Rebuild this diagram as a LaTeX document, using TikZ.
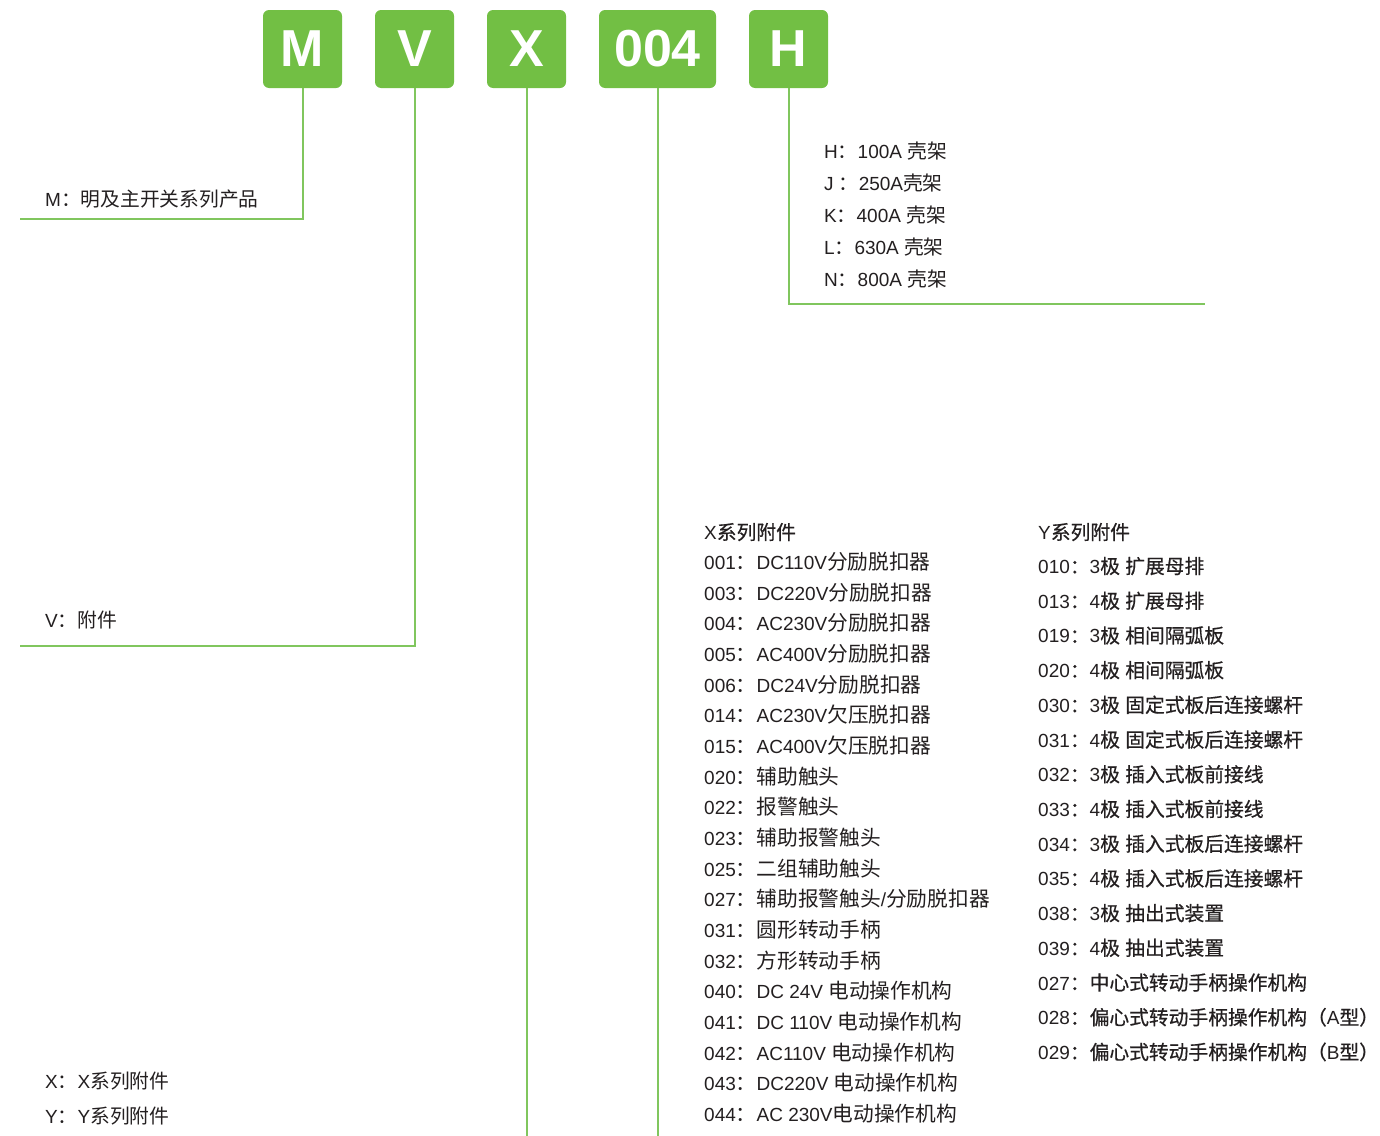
\documentclass[tikz,border=0pt]{standalone}
\usepackage{fontspec}
\setmainfont{Liberation Sans}
\newfontfamily\latfont{Liberation Sans}
\newfontfamily\cjkfont{Noto Sans CJK SC}[Scale=1.04]
\newfontfamily\cjkwidefont{Noto Sans CJK SC}[Scale=1.09]
\newfontfamily\cjkmedfont{Noto Sans CJK SC}[Scale=1.04,FakeBold=0.6]
% switch to the CJK font for Chinese characters
\newXeTeXintercharclass\cjkclass
\newcount\cjkcnt
\newcommand\markcjk[2]{\cjkcnt=#1\relax
  \loop\XeTeXcharclass\cjkcnt=\cjkclass\relax
  \ifnum\cjkcnt<#2\relax\advance\cjkcnt by 1\relax\repeat}
\markcjk{"3000}{"303F}
\markcjk{"4E00}{"9FFF}
\markcjk{"FF00}{"FFEF}
\newcommand\cjkon{\cjkfont}
\newcommand\cjkoff{\latfont}
\XeTeXinterchartoks 0 \cjkclass = {\cjkon}
\XeTeXinterchartoks 4095 \cjkclass = {\cjkon}
\XeTeXinterchartoks \cjkclass 0 = {\cjkoff}
\XeTeXinterchartoks \cjkclass 4095 = {\cjkoff}
\XeTeXinterchartokenstate=1
\definecolor{boxgreen}{HTML}{72BF44}
\definecolor{linegreen}{HTML}{80C65E}
\definecolor{inkgray}{HTML}{231F20}
\begin{document}
\begin{tikzpicture}[x=1pt, y=-1pt,
codebox/.style={fill=boxgreen, rounded corners=6pt, minimum height=78pt, inner sep=0pt, text=white, font=\latfont\bfseries\fontsize{52}{52}\selectfont},
leader/.style={draw=linegreen, line width=2pt},
note/.style={anchor=west, inner sep=0pt, text height=16pt, text depth=3pt, text=inkgray, font=\fontsize{19}{22}\selectfont},
xnote/.style={note, font={\fontsize{19}{22}\selectfont\let\cjkon\cjkwidefont}},
ynote/.style={note, font={\fontsize{19}{22}\selectfont\let\cjkon\cjkmedfont}}
]
\useasboundingbox (0,0) rectangle (1380,1135);

% code boxes
\node[codebox, minimum width=79pt] (boxM) at (302.5,49) {M};
\node[codebox, minimum width=79pt] (boxV) at (414.5,49) {V};
\node[codebox, minimum width=79pt] (boxX) at (526.5,49) {X};
\node[codebox, minimum width=117pt] (boxNum) at (657.5,49) {004};
\node[codebox, minimum width=79pt] (boxH) at (788.5,49) {H};

% leaders
\coordinate (mEnd) at (20,219);
\coordinate (vEnd) at (20,646);
\coordinate (bottomEnd) at (0,1136);
\coordinate (hEnd) at (1205,304);
\draw[leader] (boxM) |- (mEnd);
\draw[leader] (boxV) |- (vEnd);
\draw[leader] (boxX) -- (boxX |- bottomEnd);
\draw[leader] (boxNum) -- (boxNum |- bottomEnd);
\draw[leader] (boxH) |- (hEnd);

% left notes
\node[note] (mNote) at (45,200) {M：明及主开关系列产品};
\node[note] (vNote) at (45,621) {V：附件};
\node[note] (xNote) at (45,1082) {X：X系列附件};
\node[note] (yNote) at (45,1117) {Y：Y系列附件};

% frame sizes
\foreach \txt [count=\i] in {{H：100A 壳架}, {J ：250A壳架}, {K：400A 壳架}, {L：630A 壳架}, {N：800A 壳架}}
  \node[note] (frame\i) at (824, 152+32*\i-32) {\txt};

% X series
\node[ynote] (xTitle) at (704,533) {X系列附件};
\foreach \txt [count=\i] in {{001：DC110V分励脱扣器}, {003：DC220V分励脱扣器}, {004：AC230V分励脱扣器},
  {005：AC400V分励脱扣器}, {006：DC24V分励脱扣器}, {014：AC230V欠压脱扣器}, {015：AC400V欠压脱扣器},
  {020：辅助触头}, {022：报警触头}, {023：辅助报警触头}, {025：二组辅助触头}, {027：辅助报警触头/分励脱扣器},
  {031：圆形转动手柄}, {032：方形转动手柄}, {040：DC 24V 电动操作机构}, {041：DC 110V 电动操作机构},
  {042：AC110V 电动操作机构}, {043：DC220V 电动操作机构}, {044：AC 230V电动操作机构}}
  \node[xnote] (xItem\i) at (704, 563+30.67*\i-30.67) {\txt};

% Y series
\node[ynote] (yTitle) at (1038,533) {Y系列附件};
\foreach \txt [count=\i] in {{010：3极 扩展母排}, {013：4极 扩展母排}, {019：3极 相间隔弧板}, {020：4极 相间隔弧板},
  {030：3极 固定式板后连接螺杆}, {031：4极 固定式板后连接螺杆}, {032：3极 插入式板前接线}, {033：4极 插入式板前接线},
  {034：3极 插入式板后连接螺杆}, {035：4极 插入式板后连接螺杆}, {038：3极 抽出式装置}, {039：4极 抽出式装置},
  {027：中心式转动手柄操作机构}, {028：偏心式转动手柄操作机构（A型）}, {029：偏心式转动手柄操作机构（B型）}}
  \node[ynote] (yItem\i) at (1038, 567+34.71*\i-34.71) {\txt};
\end{tikzpicture}
\end{document}
